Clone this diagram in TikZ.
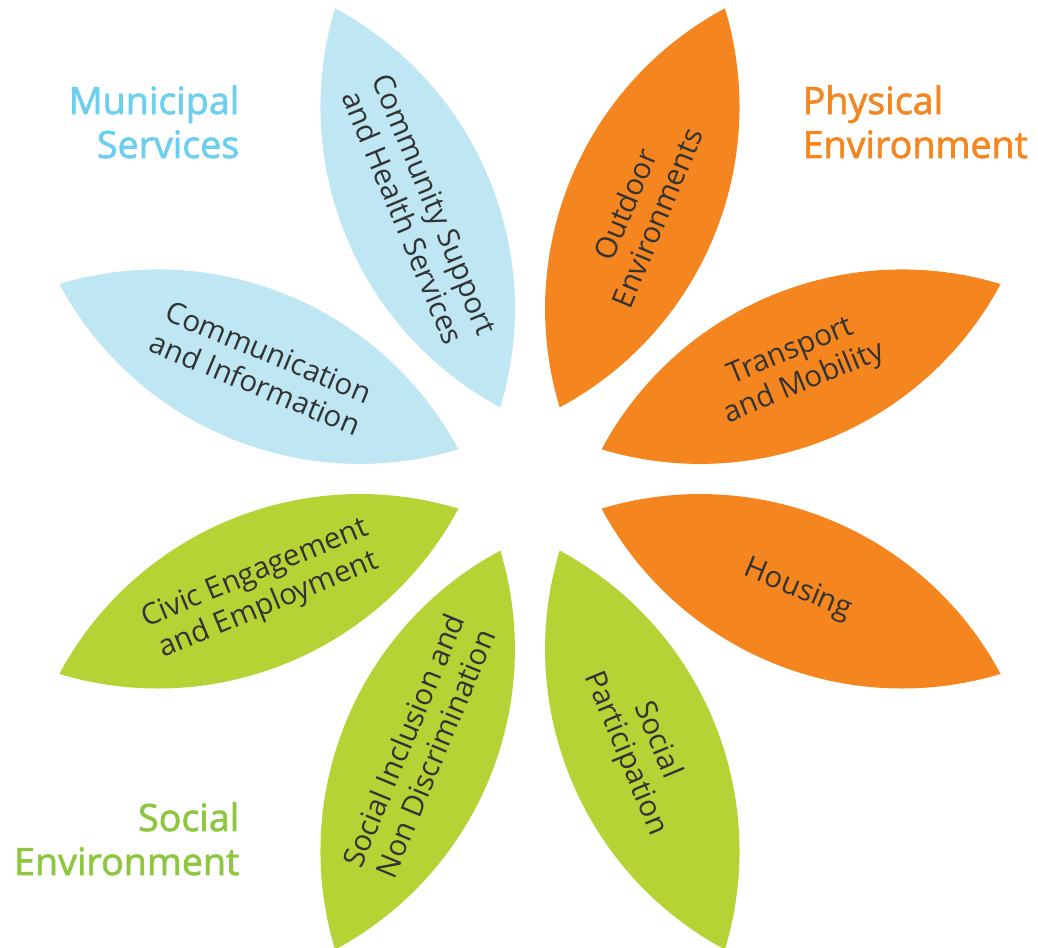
\documentclass[tikz,border=0pt]{standalone}
\usepackage{fontspec}
\setmainfont{Open Sans}
\newfontfamily\headfont{Open Sans}[FakeBold=1.8]
\usepackage{tikz}
\definecolor{skyleaf}{HTML}{BFE6F3}
\definecolor{skyhead}{HTML}{6CCFEE}
\definecolor{orangeleaf}{HTML}{F5861F}
\definecolor{limeleaf}{HTML}{B5D335}
\definecolor{limehead}{HTML}{8DC63F}
\newcommand{\leaf}[2]{\fill[#2,rotate=#1] (.775,0) arc[start angle=129.3,end angle=50.7,radius=3.41] arc[start angle=-50.7,end angle=-129.3,radius=3.41] -- cycle;}

\begin{document}
\begin{tikzpicture}[lbl/.style={align=center,text=black!80,font=\fontsize{8.4}{9.8}\selectfont},
  head/.style={font=\headfont\fontsize{10.7}{12.5}\selectfont,inner sep=0pt}]
  \useasboundingbox (-5.30,-4.69) rectangle (5.08,4.79);
  \leaf{112.5}{skyleaf}
  \leaf{157.5}{skyleaf}
  \leaf{67.5}{orangeleaf}
  \leaf{22.5}{orangeleaf}
  \leaf{-22.5}{orangeleaf}
  \leaf{-67.5}{limeleaf}
  \leaf{-112.5}{limeleaf}
  \leaf{-157.5}{limeleaf}

  \node[lbl,rotate=-67.5] (community) at (112.5:2.9) {Community Support\\and Health Services};
  \node[lbl,rotate=-22.5] (communication) at (157.5:2.9) {Communication\\and Information};
  \node[lbl,rotate=67.5] (outdoor) at (67.5:2.9) {Outdoor\\Environments};
  \node[lbl,rotate=22.5] (transport) at (22.5:2.9) {Transport\\and Mobility};
  \node[lbl,rotate=-22.5] (housing) at (-22.5:2.9) {Housing};
  \node[lbl,rotate=-67.5] (participation) at (-67.5:2.9) {Social\\Participation};
  \node[lbl,rotate=67.5] (inclusion) at (-112.5:2.9) {Social Inclusion and\\Non Discrimination};
  \node[lbl,rotate=22.5] (civic) at (-157.5:2.9) {Civic Engagement\\and Employment};

  \node[head,text=skyhead,align=right,anchor=base east] (municipal) at (-2.90,3.21) {Municipal\\Services};
  \node[head,text=orangeleaf,align=left,anchor=base west] (physical) at (2.72,3.21) {Physical\\Environment};
  \node[head,text=limehead,align=right,anchor=base east] (social) at (-2.90,-3.96) {Social\\Environment};
\end{tikzpicture}
\end{document}
